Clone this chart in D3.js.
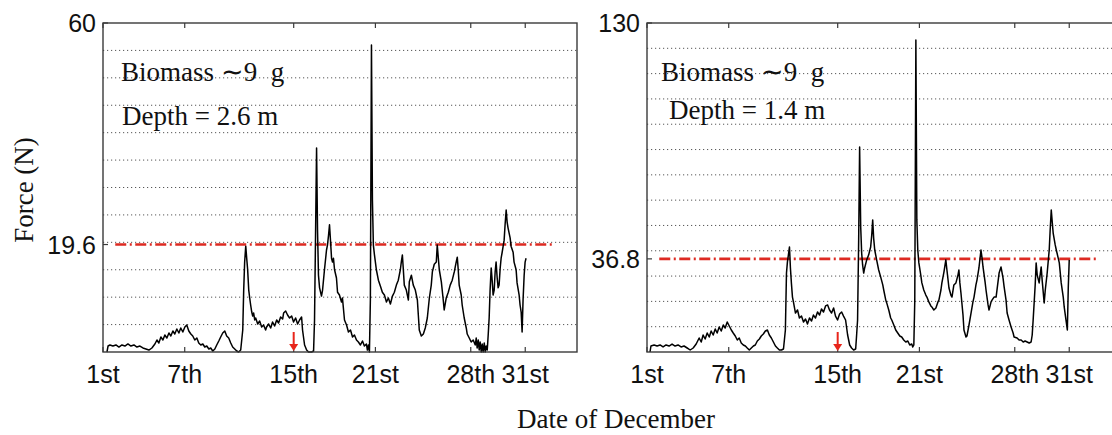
<!DOCTYPE html>
<html><head><meta charset="utf-8">
<script src="https://cdn.jsdelivr.net/npm/d3@7"></script>
<style>html,body{margin:0;padding:0;background:#fff;} svg{display:block;}</style>
</head><body>
<svg id="c" width="1112" height="435"></svg>
<script>
// ---------- data ----------
const xTickDays = [0, 6, 14, 20, 27, 31];
const xTickLabels = ["1st", "7th", "15th", "21st", "28th", "31st"];
const xMaxDay = 34.8;
const leftYMax = 60;
const rightYMax = 130;
const leftYTicks = [19.6, 60];
const rightYTicks = [36.8, 130];
const leftGrid = [5, 10, 15, 20, 25, 30, 35, 40, 45, 50, 55];
const rightGrid = [10, 20, 30, 40, 50, 60, 70, 80, 90, 100, 110, 120];
const leftThreshold = 19.6;
const rightThreshold = 36.8;
const thresholdSpan = [0.9, 33];
const arrowDay = 14;
const leftNotes = ["Biomass \u223C9  g", "Depth = 2.6 m"];
const rightNotes = ["Biomass \u223C9  g", "Depth = 1.4 m"];
const yTitle = "Force (N)";
const xTitle = "Date of December";

// [day since 1st, force N]
const leftSeries = [[0.29,0],[0.37,1.09],[0.51,1.28],[0.73,1.09],[0.95,1.28],[1.17,0.91],[1.39,1.28],[1.61,1.09],[1.83,1.46],[2.05,1.09],[2.27,1.28],[2.49,0.91],[2.71,1.09],[2.93,0.73],[3.15,0.55],[3.37,0.36],[3.59,0.73],[3.81,1.46],[3.96,2.19],[4.10,1.64],[4.25,2.74],[4.40,2.19],[4.54,3.10],[4.69,2.55],[4.84,3.47],[4.98,2.92],[5.13,3.83],[5.27,3.28],[5.42,4.19],[5.57,3.47],[5.71,4.38],[5.86,3.65],[6.01,4.56],[6.15,4.92],[6.30,3.83],[6.45,3.28],[6.59,2.92],[6.74,2.19],[6.89,2.55],[7.03,1.64],[7.18,1.28],[7.33,1.46],[7.47,0.91],[7.62,1.09],[7.77,0.55],[7.91,0.73],[8.06,0.18],[8.21,0.55],[8.35,1.28],[8.50,2.01],[8.64,2.74],[8.79,3.47],[8.94,3.83],[9.08,2.92],[9.23,2.55],[9.38,1.64],[9.52,0.91],[9.67,0.55],[9.82,0.18],[9.96,0],[10.11,0.36],[10.26,4.01],[10.33,11.3],[10.40,16.4],[10.48,19.3],[10.55,17.1],[10.62,15.0],[10.70,11.3],[10.77,9.85],[10.84,8.57],[10.92,7.29],[10.99,6.57],[11.06,7.11],[11.14,5.84],[11.21,6.20],[11.36,5.11],[11.50,5.65],[11.65,4.56],[11.79,4.92],[11.94,4.01],[12.01,4.56],[12.16,5.11],[12.31,4.38],[12.45,5.47],[12.60,4.74],[12.75,5.84],[12.89,5.29],[13.04,6.38],[13.19,6.02],[13.26,7.11],[13.41,7.48],[13.55,6.75],[13.70,6.20],[13.85,6.57],[13.99,5.47],[14.14,6.20],[14.29,5.11],[14.43,5.84],[14.58,6.38],[14.65,4.01],[14.80,1.28],[14.95,0.36],[15.09,0],[15.31,0],[15.46,0.18],[15.53,5.84],[15.60,20.4],[15.68,37.2],[15.75,22.2],[15.82,14.0],[15.90,11.7],[16.04,10.2],[16.12,11.3],[16.26,15.0],[16.41,18.6],[16.48,19.5],[16.56,21.3],[16.63,23.2],[16.70,20.4],[16.78,17.1],[16.85,16.4],[16.92,17.1],[17.00,15.0],[17.14,13.5],[17.22,10.9],[17.36,10.4],[17.51,9.12],[17.58,9.85],[17.73,5.84],[17.88,4.92],[18.02,3.65],[18.17,4.01],[18.32,2.74],[18.46,3.10],[18.61,2.19],[18.75,1.82],[18.90,1.28],[19.05,2.01],[19.19,1.09],[19.34,1.46],[19.41,0.36],[19.49,1.28],[19.56,0],[19.63,9.48],[19.71,56.0],[19.78,27.7],[19.85,19.5],[19.93,17.7],[20.07,15.0],[20.22,13.1],[20.37,12.0],[20.51,10.9],[20.66,10.4],[20.81,9.12],[20.95,9.85],[21.10,8.75],[21.25,10.2],[21.39,10.9],[21.54,12.2],[21.68,13.1],[21.83,15.0],[21.90,16.4],[21.98,17.7],[22.05,15.0],[22.12,12.2],[22.27,11.3],[22.42,9.48],[22.49,12.8],[22.64,14.0],[22.78,12.2],[22.93,11.3],[23.08,9.48],[23.22,4.01],[23.37,2.92],[23.52,3.28],[23.66,4.38],[23.81,6.20],[23.96,9.85],[24.10,12.2],[24.18,14.6],[24.32,16.0],[24.47,16.4],[24.54,19.5],[24.69,15.0],[24.84,12.8],[24.98,9.48],[25.05,7.66],[25.20,9.85],[25.35,10.9],[25.49,12.2],[25.64,13.1],[25.79,14.6],[25.93,16.4],[26.01,17.3],[26.08,15.0],[26.15,12.2],[26.30,10.4],[26.37,8.57],[26.52,6.20],[26.67,4.38],[26.74,3.28],[26.89,2.55],[27.03,1.82],[27.18,2.19],[27.33,1.28],[27.40,2.55],[27.47,0.73],[27.55,2.19],[27.62,0.36],[27.69,1.82],[27.77,0],[27.84,1.46],[27.91,0],[27.99,1.64],[28.06,0],[28.13,1.09],[28.21,0.36],[28.28,3.10],[28.35,6.20],[28.42,11.3],[28.50,15.3],[28.57,13.1],[28.64,10.4],[28.72,11.3],[28.79,14.6],[28.86,16.4],[28.94,13.5],[29.01,11.7],[29.08,12.2],[29.16,15.3],[29.23,17.1],[29.30,18.1],[29.45,20.4],[29.52,23.2],[29.60,25.9],[29.67,23.7],[29.74,22.6],[29.89,20.8],[29.96,19.3],[30.11,18.2],[30.18,16.4],[30.33,15.0],[30.40,12.6],[30.55,10.4],[30.62,8.57],[30.70,7.29],[30.77,3.65],[30.84,9.48],[30.92,14.0],[30.99,16.4],[31.06,17.1]];

const rightSeries = [[0.22,0],[0.29,2.37],[0.52,2.77],[0.74,2.37],[0.96,2.77],[1.18,1.98],[1.40,2.77],[1.62,2.37],[1.84,3.16],[2.06,2.37],[2.28,2.77],[2.50,1.98],[2.72,2.37],[2.95,1.58],[3.17,0.79],[3.39,1.58],[3.61,3.16],[3.83,5.53],[3.98,3.95],[4.12,6.72],[4.27,5.14],[4.42,7.51],[4.57,5.93],[4.71,8.30],[4.86,6.72],[5.01,9.09],[5.15,7.51],[5.30,9.88],[5.45,8.30],[5.60,10.67],[5.74,9.48],[5.89,11.85],[6.04,10.27],[6.19,8.69],[6.33,7.51],[6.48,6.32],[6.63,4.74],[6.77,5.53],[6.92,3.56],[7.07,2.77],[7.22,2.37],[7.36,1.58],[7.51,0.79],[7.66,1.58],[7.81,2.37],[7.95,2.77],[8.10,4.35],[8.25,5.14],[8.39,6.32],[8.54,7.11],[8.69,8.30],[8.84,8.69],[8.98,6.72],[9.13,5.53],[9.28,3.95],[9.43,2.37],[9.57,1.58],[9.72,0.79],[9.87,0.79],[10.02,1.19],[10.16,8.69],[10.24,31.2],[10.31,35.6],[10.38,38.3],[10.46,41.5],[10.53,33.2],[10.60,27.3],[10.68,21.7],[10.75,19.8],[10.83,17.4],[10.90,15.4],[11.05,16.6],[11.19,13.43],[11.34,14.2],[11.49,11.85],[11.64,13.04],[11.78,11.06],[11.93,13.43],[12.08,12.25],[12.22,14.6],[12.37,13.43],[12.52,15.8],[12.67,14.6],[12.81,17.0],[12.96,15.8],[13.11,18.2],[13.26,18.6],[13.40,16.6],[13.55,15.4],[13.70,17.4],[13.84,14.2],[13.99,12.64],[14.14,15.0],[14.29,15.8],[14.43,14.2],[14.58,12.64],[14.73,6.72],[14.88,2.77],[15.02,1.58],[15.17,0.79],[15.32,1.19],[15.39,6.72],[15.46,12.64],[15.54,44.3],[15.61,81.0],[15.69,49.4],[15.76,39.1],[15.83,34.4],[15.91,31.2],[15.98,33.2],[16.13,36.4],[16.27,38.3],[16.42,41.5],[16.50,46.2],[16.57,52.2],[16.64,45.0],[16.72,40.3],[16.86,36.4],[17.01,32.4],[17.16,29.6],[17.31,26.5],[17.38,24.5],[17.53,20.5],[17.60,19.4],[17.75,16.6],[17.89,13.43],[17.97,12.64],[18.12,10.67],[18.26,8.69],[18.41,7.51],[18.56,6.32],[18.70,5.93],[18.85,4.74],[19.00,3.95],[19.15,4.35],[19.29,2.77],[19.44,3.16],[19.51,1.98],[19.59,2.77],[19.66,20.5],[19.74,123.3],[19.81,52.2],[19.88,40.3],[19.96,35.2],[20.10,30.4],[20.18,27.3],[20.32,24.5],[20.47,22.5],[20.55,21.7],[20.69,19.8],[20.84,18.2],[20.91,17.8],[21.06,16.6],[21.21,17.4],[21.36,19.8],[21.43,20.5],[21.58,24.5],[21.65,27.3],[21.80,31.6],[21.94,36.4],[22.02,32.4],[22.17,25.3],[22.31,22.5],[22.39,21.7],[22.53,26.5],[22.68,27.3],[22.83,30.4],[22.90,32.4],[22.97,27.3],[23.05,23.3],[23.20,14.6],[23.27,8.69],[23.42,5.93],[23.49,6.32],[23.64,10.67],[23.79,15.4],[23.93,19.8],[24.01,21.7],[24.15,26.5],[24.23,28.5],[24.37,33.2],[24.52,40.3],[24.60,37.1],[24.67,33.6],[24.82,27.7],[24.89,24.5],[25.04,18.6],[25.11,16.6],[25.26,19.8],[25.33,20.5],[25.48,21.7],[25.63,21.7],[25.77,27.7],[25.85,31.2],[25.99,33.6],[26.14,29.2],[26.22,25.7],[26.36,20.5],[26.44,15.4],[26.58,12.64],[26.73,9.88],[26.88,7.51],[26.95,5.93],[27.17,5.53],[27.32,4.74],[27.47,4.74],[27.62,3.95],[27.76,4.35],[27.91,3.95],[28.06,3.56],[28.20,3.95],[28.28,6.72],[28.35,12.64],[28.50,26.5],[28.57,35.2],[28.65,30.4],[28.79,27.3],[28.94,33.6],[29.01,28.5],[29.16,19.4],[29.24,24.5],[29.38,31.2],[29.53,40.3],[29.60,48.2],[29.68,56.1],[29.75,51.4],[29.82,47.0],[29.97,42.3],[30.05,40.3],[30.19,37.1],[30.27,35.2],[30.41,27.3],[30.56,21.7],[30.63,17.8],[30.78,11.85],[30.86,8.69],[30.93,25.7],[31.00,36.4]];

// ---------- drawing ----------
const svg = d3.select("#c");
const frameColor = "#3a3a3a";
const tickFont = "'Liberation Sans', Arial, sans-serif";
const serifFont = "'Liberation Serif', 'Times New Roman', serif";

function panel(x0, yMax, yTicks, grid, threshold, series, notes, noteX, noteY) {
  const top = 23, bottom = 352, w = 474;
  const x = d3.scaleLinear().domain([0, xMaxDay]).range([x0, x0 + w]);
  const y = d3.scaleLinear().domain([0, yMax]).range([bottom, top]);
  const g = svg.append("g");

  // dotted grid
  g.selectAll("line.grid").data(grid).enter().append("line")
    .attr("x1", x(0)).attr("x2", x(xMaxDay))
    .attr("y1", d => y(d)).attr("y2", d => y(d))
    .attr("stroke", "#444").attr("stroke-width", 0.9)
    .attr("stroke-dasharray", "1.2,2.8");

  // threshold line (dash-dot)
  g.append("line")
    .attr("x1", x(thresholdSpan[0])).attr("x2", x(thresholdSpan[1]))
    .attr("y1", y(threshold)).attr("y2", y(threshold))
    .attr("stroke", "#dd2a22").attr("stroke-width", 2.6)
    .attr("stroke-dasharray", "11,3.5,2,3.5");

  // data line
  const line = d3.line().x(d => x(d[0])).y(d => y(d[1]));
  g.append("path").datum(series)
    .attr("d", line).attr("fill", "none")
    .attr("stroke", "#000").attr("stroke-width", 1.5)
    .attr("stroke-linejoin", "round");

  // frame
  g.append("rect").attr("x", x0).attr("y", top).attr("width", w).attr("height", bottom - top)
    .attr("fill", "none").attr("stroke", frameColor).attr("stroke-width", 1.4);

  // x ticks (inward, top and bottom)
  xTickDays.forEach(d => {
    g.append("line").attr("x1", x(d)).attr("x2", x(d)).attr("y1", top).attr("y2", top + 5)
      .attr("stroke", frameColor).attr("stroke-width", 1.2);
    g.append("line").attr("x1", x(d)).attr("x2", x(d)).attr("y1", bottom).attr("y2", bottom - 5)
      .attr("stroke", frameColor).attr("stroke-width", 1.2);
  });
  g.selectAll("text.xt").data(xTickDays).enter().append("text")
    .attr("x", d => x(d)).attr("y", 383)
    .attr("text-anchor", "middle")
    .attr("font-family", tickFont).attr("font-size", 25).attr("fill", "#111")
    .text((d, i) => xTickLabels[i]);

  // y ticks
  yTicks.forEach(v => {
    g.append("line").attr("x1", x0).attr("x2", x0 + 5).attr("y1", y(v)).attr("y2", y(v))
      .attr("stroke", frameColor).attr("stroke-width", 1.2);
  });
  g.selectAll("text.yt").data(yTicks).enter().append("text")
    .attr("x", x0 - 7).attr("y", d => y(d))
    .attr("dy", "0.36em")
    .attr("text-anchor", "end")
    .attr("font-family", tickFont).attr("font-size", 25).attr("fill", "#111")
    .text(d => String(d));

  // red arrow at the 15th
  const ax = x(arrowDay);
  g.append("line").attr("x1", ax).attr("x2", ax).attr("y1", bottom - 20).attr("y2", bottom - 6)
    .attr("stroke", "#e8251b").attr("stroke-width", 2);
  g.append("path")
    .attr("d", `M${ax - 4.5},${bottom - 8} L${ax + 4.5},${bottom - 8} L${ax},${bottom - 1} Z`)
    .attr("fill", "#e8251b");

  // notes
  g.append("text").attr("x", noteX[0]).attr("y", noteY[0])
    .attr("font-family", serifFont).attr("font-size", 27).attr("fill", "#111")
    .style("white-space", "pre").text(notes[0]);
  g.append("text").attr("x", noteX[1]).attr("y", noteY[1])
    .attr("font-family", serifFont).attr("font-size", 27).attr("fill", "#111")
    .style("white-space", "pre").text(notes[1]);
}

panel(103, leftYMax, leftYTicks, leftGrid, leftThreshold, leftSeries, leftNotes, [121, 122], [81, 125]);
panel(647, rightYMax, rightYTicks, rightGrid, rightThreshold, rightSeries, rightNotes, [661, 669], [81, 119]);

// axis titles
svg.append("text")
  .attr("transform", "translate(33,190) rotate(-90)")
  .attr("text-anchor", "middle")
  .attr("font-family", serifFont).attr("font-size", 27).attr("fill", "#111")
  .text(yTitle);
svg.append("text")
  .attr("x", 616).attr("y", 428)
  .attr("text-anchor", "middle")
  .attr("font-family", serifFont).attr("font-size", 27).attr("fill", "#111")
  .text(xTitle);
</script>
</body></html>
